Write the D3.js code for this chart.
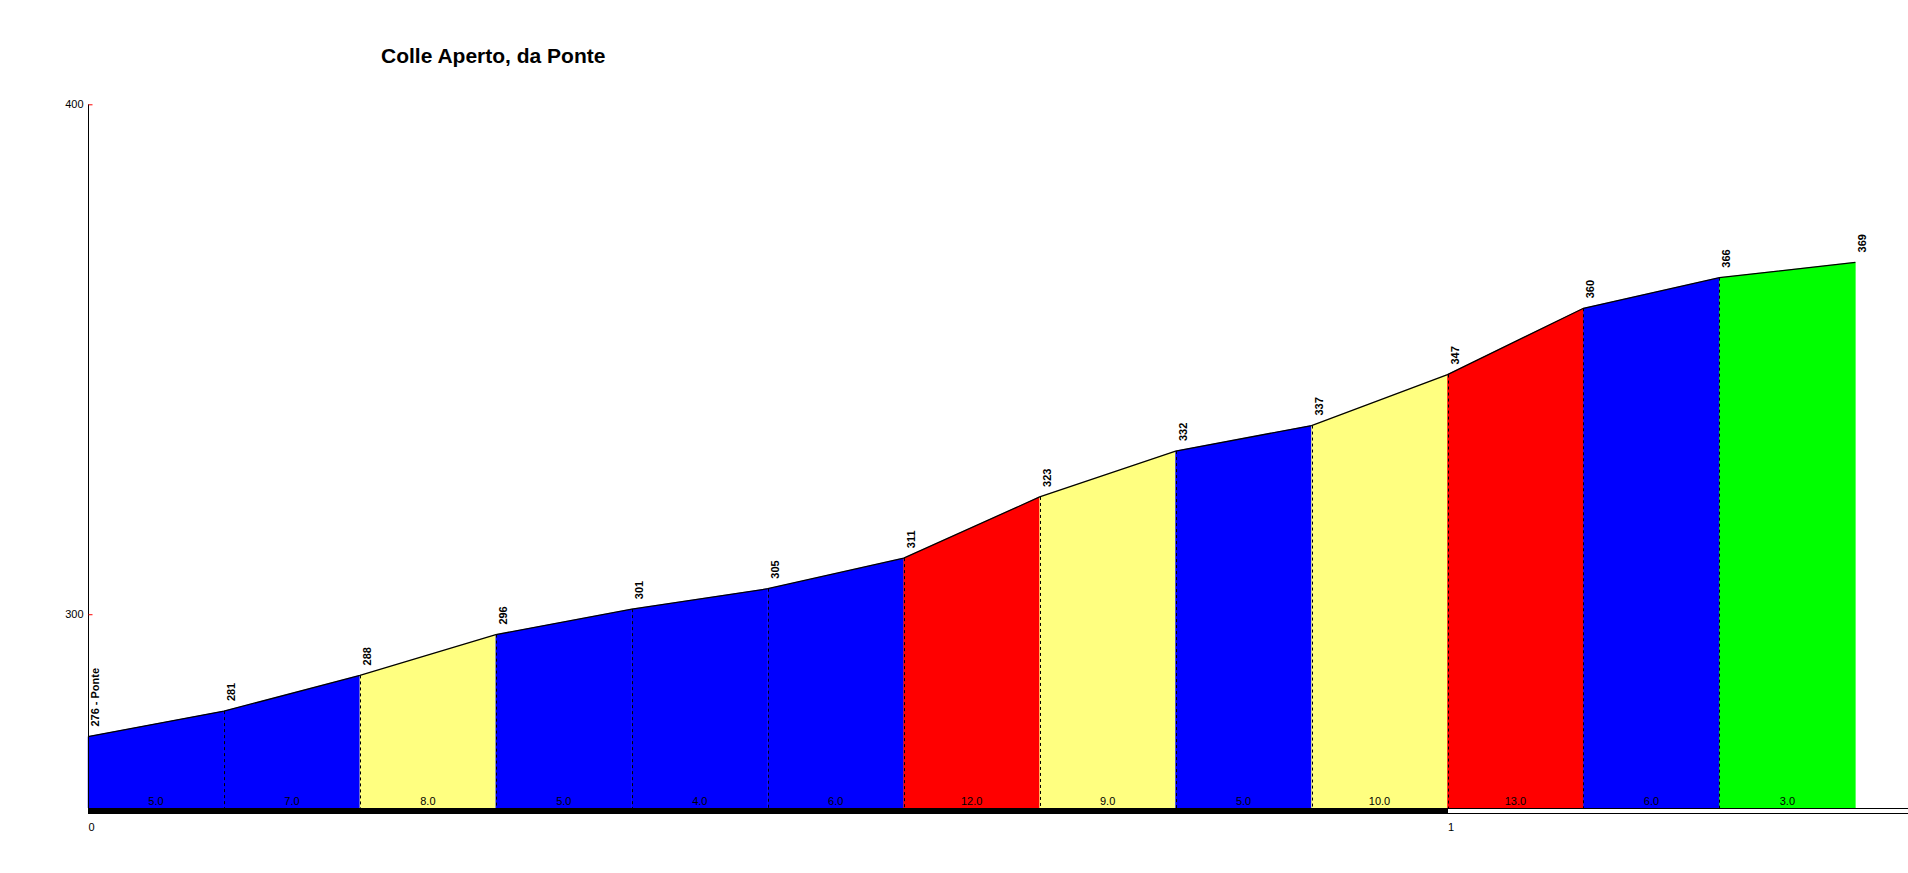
<!DOCTYPE html>
<html><head><meta charset="utf-8">
<script src="https://d3js.org/d3.v7.min.js"></script>
<style>
body{margin:0;background:#fff}
svg{display:block}
text{font-family:Arial,"Liberation Sans",sans-serif}
</style>
</head><body>
<svg id="chart" width="1908" height="873"></svg>
<script>
// ---- data ----
const title = "Colle Aperto, da Ponte";
const distances = [0, 0.1, 0.2, 0.3, 0.4, 0.5, 0.6, 0.7, 0.8, 0.9, 1.0, 1.1, 1.2, 1.3];
const elevations = [276, 281, 288, 296, 301, 305, 311, 323, 332, 337, 347, 360, 366, 369];
const pointLabels = ["276 - Ponte", "281", "288", "296", "301", "305", "311", "323", "332", "337", "347", "360", "366", "369"];
const gradients = [5.0, 7.0, 8.0, 5.0, 4.0, 6.0, 12.0, 9.0, 5.0, 10.0, 13.0, 6.0, 3.0];
const yTicks = [300, 400];
const xTicks = [0, 1];

// ---- layout ----
const svg = d3.select("#chart");
const W = 1908;
const x = d3.scaleLinear().domain([0, 1]).range([88, 1447.5]);
const y = d3.scaleLinear().domain([262, 400]).range([808, 104.3]);
const baseY = y(262);

function gradColor(g) {
  if (g <= 3) return "#00ff00";
  if (g <= 7) return "#0000ff";
  if (g <= 10) return "#ffff80";
  return "#ff0000";
}

// title
svg.append("text").attr("x", 381).attr("y", 63)
  .attr("font-size", 21).attr("font-weight", "bold").attr("fill", "#000")
  .text(title);

// segments
const area = d3.area().x(d => x(d[0])).y0(baseY).y1(d => y(d[1]));
const segs = gradients.map((g, i) => ({
  g, i,
  pts: [[distances[i], elevations[i]], [distances[i + 1], elevations[i + 1]]]
}));
svg.append("g").selectAll("path").data(segs).join("path")
  .attr("d", d => area(d.pts))
  .attr("fill", d => gradColor(d.g))
  .attr("stroke", d => gradColor(d.g))
  .attr("stroke-width", 0.5);

// dashed separators
svg.append("g").selectAll("line").data(distances.slice(1, -1).map((d, k) => ({ d, e: elevations[k + 1] })))
  .join("line")
  .attr("x1", d => Math.round(x(d.d)) + 0.5).attr("x2", d => Math.round(x(d.d)) + 0.5)
  .attr("y1", d => y(d.e)).attr("y2", baseY)
  .attr("stroke", "#000").attr("stroke-width", 1).attr("stroke-dasharray", "3,3");

// profile line
const line = d3.line().x((d, i) => x(distances[i])).y(d => y(d));
svg.append("path").datum(elevations).attr("d", line)
  .attr("fill", "none").attr("stroke", "#000").attr("stroke-width", 1.3);

// gradient labels
svg.append("g").selectAll("text").data(segs).join("text")
  .attr("x", d => (x(distances[d.i]) + x(distances[d.i + 1])) / 2)
  .attr("y", 805)
  .attr("text-anchor", "middle").attr("font-size", 11).attr("fill", "#000")
  .text(d => d.g.toFixed(1));

// point labels (rotated)
svg.append("g").selectAll("text").data(elevations).join("text")
  .attr("transform", (d, i) => `translate(${x(distances[i]) + 11},${y(d) - 10}) rotate(-90)`)
  .attr("text-anchor", "start").attr("font-size", 11).attr("font-weight", "bold").attr("fill", "#000")
  .text((d, i) => pointLabels[i]);

// distance bar
svg.append("rect").attr("x", x(0)).attr("y", 808).attr("width", x(1) - x(0)).attr("height", 6).attr("fill", "#000");
svg.append("rect").attr("x", x(1)).attr("y", 808.5).attr("width", W - x(1) + 2).attr("height", 5)
  .attr("fill", "#fff").attr("stroke", "#000").attr("stroke-width", 1);

// x axis labels
const xAxis = d3.axisBottom(x).tickValues(xTicks).tickSize(0).tickPadding(0).tickFormat(d3.format("d"));
const gx = svg.append("g").attr("transform", "translate(0,823)").call(xAxis);
gx.select(".domain").remove();
gx.selectAll("text").attr("text-anchor", "start").attr("font-size", 11)
  .attr("font-family", "Arial, 'Liberation Sans', sans-serif").attr("fill", "#000").attr("dy", "0.71em");

// y axis
svg.append("line").attr("x1", 88.5).attr("x2", 88.5).attr("y1", y(400)).attr("y2", 814)
  .attr("stroke", "#000").attr("stroke-width", 1);
const yAxis = d3.axisLeft(y).tickValues(yTicks).tickSize(-4).tickPadding(5);
const gy = svg.append("g").attr("transform", "translate(88.5,0)").call(yAxis);
gy.select(".domain").remove();
gy.selectAll(".tick line").attr("stroke", "#ff0000");
gy.selectAll("text").attr("font-size", 11).attr("fill", "#000")
  .attr("font-family", "Arial, 'Liberation Sans', sans-serif");
</script>
</body></html>
